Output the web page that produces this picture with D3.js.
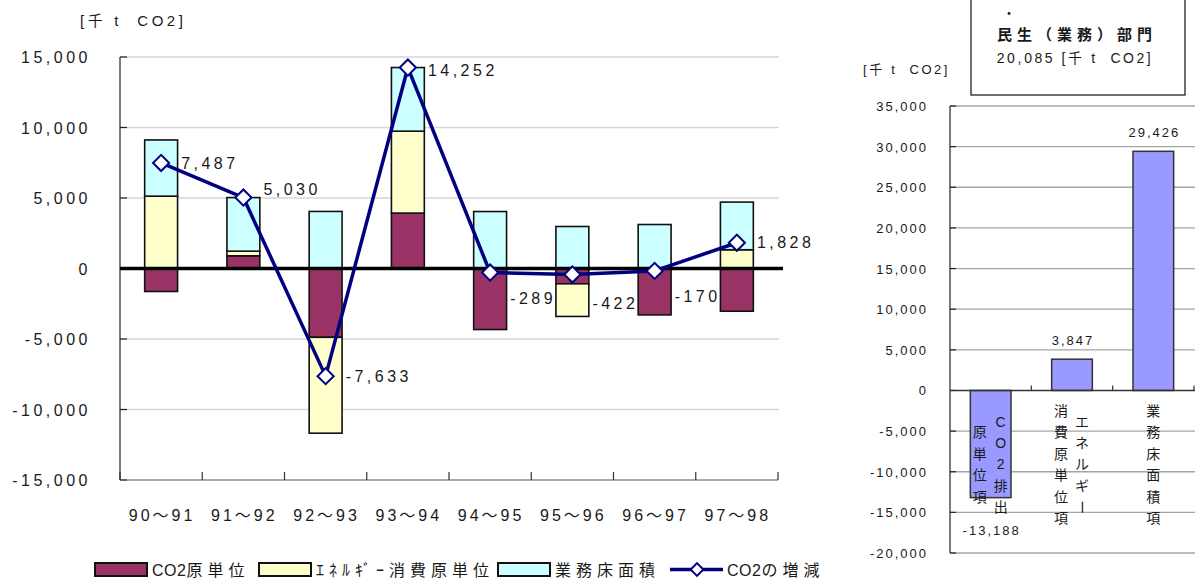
<!DOCTYPE html>
<html><head><meta charset="utf-8">
<script src="https://cdn.jsdelivr.net/npm/d3@7"></script>
<style>
html,body{margin:0;padding:0;background:#fff;}
svg{display:block;font-family:'Liberation Sans','Noto Sans CJK JP',sans-serif;}
</style></head><body>
<svg id="chart" width="1195" height="580"></svg>
<script>
// Year-on-year change in CO2 emissions of the commercial sector, split by factor
const periods = ["90～91","91～92","92～93","93～94","94～95","95～96","96～97","97～98"];
const seriesNames = ["CO2原単位","ｴﾈﾙｷﾞｰ消費原単位","業務床面積"];
const co2Intensity    = [-1630,  900, -4880, 3930, -4329, -1085, -3290, -3030];
const energyIntensity = [ 5130,  330, -6800, 5810,     0, -2316,     0,  1330];
const floorArea       = [ 3987, 3800,  4047, 4512,  4040,  2979,  3120,  3380];
const netChange = [7487, 5030, -7633, 14252, -289, -422, -170, 1828];
const netName = "CO2の増減";
const leftTicks = [15000, 10000, 5000, 0, -5000, -10000, -15000];
const unitLabel = "[千 t  CO2]";

// Factor decomposition 1990→1998 (each entry: vertical text columns, right to left)
const factorCols = [["CO2排出","原単位項"], ["エネルギー","消費原単位項"], ["業務床面積項"]];
const factorValues = [-13188, 3847, 29426];
const rightTicks = [35000, 30000, 25000, 20000, 15000, 10000, 5000, 0, -5000, -10000, -15000, -20000];
const boxDot = "・";
const boxTitle = "民生（業務）部門";
const boxTotal = "20,085 [千 t  CO2]";

// styling
const seriesColors = ["#993366", "#FFFFCC", "#CCFFFF"];
const lineColor = "#000080";
const factorColor = "#9999FF";
const textColor = "#1a1a1a";
// per-point label nudges (px) for the net-change labels
const labelNudge = [0, -9, 0, 2, 25, 29, 25, -1];

// thousands separator with a plain hyphen for negatives
const fmt = d3.formatLocale({decimal: ".", thousands: ",", grouping: [3], currency: ["", ""], minus: "-"}).format(",");
const svg = d3.select("#chart");

// splits a string into Latin and non-Latin runs so each gets its own spacing
function spacedText(sel, str, latinLs, cjkLs) {
  const runs = str.match(/[A-Za-z0-9\[\]\s]+|[^A-Za-z0-9\[\]\s]+/g) || [];
  runs.forEach(r => {
    sel.append("tspan").attr("letter-spacing", /[A-Za-z0-9\[\]\s]/.test(r[0]) ? latinLs : cjkLs).text(r);
  });
}

// ---------------- left chart ----------------
const L = {x0: 120, x1: 778, yTop: 57, yBot: 480};
const xL = d3.scaleBand().domain(periods).range([L.x0, L.x1]).paddingInner(0.6).paddingOuter(0.3);
const yL = d3.scaleLinear().domain([-15000, 15000]).range([L.yBot, L.yTop]);
const stepL = xL.step();
const gL = svg.append("g");

// gridlines
gL.append("g").selectAll("line").data(leftTicks.filter(t => t !== -15000 && t !== 0)).join("line")
  .attr("x1", L.x0).attr("x2", L.x1 + 1).attr("y1", d => yL(d)).attr("y2", d => yL(d))
  .attr("stroke", "#d6d6d6").attr("stroke-width", 1.5);

// stacked bars (positive parts stack upward, negative parts downward)
const seriesData = [co2Intensity, energyIntensity, floorArea];
const stacks = [];
periods.forEach((p, i) => {
  let pos = 0, neg = 0;
  seriesData.forEach((s, k) => {
    const v = s[i];
    if (v === 0) return;
    let a, b;
    if (v > 0) { a = pos; b = pos + v; pos = b; } else { a = neg; b = neg + v; neg = b; }
    stacks.push({p, k, a, b});
  });
});
gL.append("g").selectAll("rect").data(stacks).join("rect")
  .attr("x", d => xL(d.p)).attr("width", xL.bandwidth())
  .attr("y", d => yL(Math.max(d.a, d.b))).attr("height", d => Math.abs(yL(d.a) - yL(d.b)))
  .attr("fill", d => seriesColors[d.k]).attr("stroke", "#111").attr("stroke-width", 1.6);

// y axis
gL.append("line").attr("x1", L.x0).attr("x2", L.x0).attr("y1", L.yTop).attr("y2", L.yBot)
  .attr("stroke", "#222").attr("stroke-width", 1.2);
gL.append("g").selectAll("line").data(leftTicks).join("line")
  .attr("x1", L.x0).attr("x2", L.x0 + 7).attr("y1", d => yL(d)).attr("y2", d => yL(d))
  .attr("stroke", "#222").attr("stroke-width", 1.2);
gL.append("g").selectAll("text").data(leftTicks).join("text")
  .attr("x", 91).attr("y", d => yL(d) + 6).attr("text-anchor", "end")
  .attr("font-size", 16).attr("letter-spacing", 3.5).attr("fill", textColor)
  .text(d => fmt(d));

// bottom axis
gL.append("line").attr("x1", L.x0).attr("x2", L.x1).attr("y1", L.yBot).attr("y2", L.yBot)
  .attr("stroke", "#555").attr("stroke-width", 1.2);
gL.append("g").selectAll("line").data(d3.range(periods.length + 1)).join("line")
  .attr("x1", i => L.x0 + i * stepL).attr("x2", i => L.x0 + i * stepL)
  .attr("y1", L.yBot - 8).attr("y2", L.yBot)
  .attr("stroke", "#333").attr("stroke-width", 1.2);
gL.append("g").selectAll("text").data(periods).join("text")
  .attr("x", d => xL(d) + xL.bandwidth() / 2 + 1).attr("y", 521).attr("text-anchor", "middle")
  .attr("font-size", 16).attr("letter-spacing", 3).attr("fill", textColor)
  .text(d => d);

// zero line
gL.append("line").attr("x1", L.x0).attr("x2", L.x1 + 5).attr("y1", yL(0)).attr("y2", yL(0))
  .attr("stroke", "#000").attr("stroke-width", 3.5);

// net change line + markers
const cx = (d, i) => xL(periods[i]) + xL.bandwidth() / 2;
gL.append("path").datum(netChange)
  .attr("d", d3.line().x(cx).y(d => yL(d)))
  .attr("fill", "none").attr("stroke", lineColor).attr("stroke-width", 3.5).attr("stroke-linejoin", "round");
const diamond = d3.symbol(d3.symbolSquare, 130);
gL.append("g").selectAll("path").data(netChange).join("path")
  .attr("d", diamond)
  .attr("transform", (d, i) => `translate(${cx(d, i)},${yL(d)}) rotate(45)`)
  .attr("fill", "#fff").attr("stroke", lineColor).attr("stroke-width", 2);
gL.append("g").selectAll("text").data(netChange).join("text")
  .attr("x", (d, i) => cx(d, i) + 20).attr("y", (d, i) => yL(d) + labelNudge[i] + 6)
  .attr("font-size", 16).attr("letter-spacing", 3.5).attr("fill", textColor)
  .text(d => fmt(d));

// unit label
spacedText(svg.append("text").attr("x", 80).attr("y", 26).attr("font-size", 15)
  .attr("fill", textColor).attr("xml:space", "preserve").style("white-space", "pre"), unitLabel, 3.5, 4);

// legend
const legend = svg.append("g");
const legendX = [95, 259, 498];
seriesNames.forEach((name, k) => {
  legend.append("rect").attr("x", legendX[k]).attr("y", 563).attr("width", 52).attr("height", 13)
    .attr("fill", seriesColors[k]).attr("stroke", "#111").attr("stroke-width", 2);
  spacedText(legend.append("text").attr("x", legendX[k] + 57).attr("y", 576)
    .attr("font-size", 16).attr("fill", textColor), name, 0.5, 5);
});
legend.append("line").attr("x1", 670).attr("x2", 723).attr("y1", 569.5).attr("y2", 569.5)
  .attr("stroke", lineColor).attr("stroke-width", 3.5);
legend.append("path").attr("d", d3.symbol(d3.symbolSquare, 80))
  .attr("transform", "translate(697,569.5) rotate(45)")
  .attr("fill", "#fff").attr("stroke", lineColor).attr("stroke-width", 2);
spacedText(legend.append("text").attr("x", 727).attr("y", 576).attr("font-size", 16)
  .attr("fill", textColor), netName, 0.5, 5);

// ---------------- right chart ----------------
const R = {x0: 950, x1: 1194, yTop: 106, yBot: 553};
const factorIdx = factorCols.map((c, i) => i);
const xR = d3.scaleBand().domain(factorIdx).range([R.x0, R.x1]).paddingInner(0.5).paddingOuter(0.25);
const yR = d3.scaleLinear().domain([-20000, 35000]).range([R.yBot, R.yTop]);
const gR = svg.append("g");

gR.append("g").selectAll("line").data(rightTicks.filter(t => t !== 0)).join("line")
  .attr("x1", R.x0).attr("x2", 1195).attr("y1", d => yR(d)).attr("y2", d => yR(d))
  .attr("stroke", "#a6a6a6").attr("stroke-width", 1.3);

gR.append("g").selectAll("rect").data(factorValues).join("rect")
  .attr("x", (d, i) => xR(i)).attr("width", xR.bandwidth())
  .attr("y", d => yR(Math.max(0, d))).attr("height", d => Math.abs(yR(d) - yR(0)))
  .attr("fill", factorColor).attr("stroke", "#333").attr("stroke-width", 1.5);

gR.append("line").attr("x1", R.x0).attr("x2", R.x0).attr("y1", R.yTop).attr("y2", R.yBot)
  .attr("stroke", "#222").attr("stroke-width", 1.2);
gR.append("g").selectAll("line").data(rightTicks).join("line")
  .attr("x1", R.x0).attr("x2", R.x0 + 6).attr("y1", d => yR(d)).attr("y2", d => yR(d))
  .attr("stroke", "#222").attr("stroke-width", 1.2);
gR.append("line").attr("x1", R.x0).attr("x2", 1195).attr("y1", yR(0)).attr("y2", yR(0))
  .attr("stroke", "#333").attr("stroke-width", 1.6);
gR.append("g").selectAll("line").data(d3.range(1, factorCols.length + 1)).join("line")
  .attr("x1", i => R.x0 + i * xR.step()).attr("x2", i => R.x0 + i * xR.step())
  .attr("y1", yR(0) - 5).attr("y2", yR(0))
  .attr("stroke", "#333").attr("stroke-width", 1.2);
gR.append("g").selectAll("text").data(rightTicks).join("text")
  .attr("x", 928).attr("y", d => yR(d) + 5).attr("text-anchor", "end")
  .attr("font-size", 13).attr("letter-spacing", 2).attr("fill", textColor)
  .text(d => fmt(d));

// value labels
gR.append("g").selectAll("text").data(factorValues).join("text")
  .attr("x", (d, i) => xR(i) + xR.bandwidth() / 2 + 1)
  .attr("y", d => d >= 0 ? yR(d) - 14 : yR(d) + 37)
  .attr("text-anchor", "middle").attr("font-size", 13).attr("letter-spacing", 2).attr("fill", textColor)
  .text(d => fmt(d));

// vertical category labels (columns run right to left)
const charStep = 21.4;
const colMid = yR(0) + 74;
factorCols.forEach((cols, i) => {
  const c = xR(i) + xR.bandwidth() / 2;
  const offs = cols.length === 2 ? [10, -11] : [0];
  cols.forEach((col, j) => {
    const chars = Array.from(col);
    const y0 = colMid - (chars.length - 1) / 2 * charStep;
    chars.forEach((ch, m) => {
      gR.append("text")
        .attr("x", 0).attr("y", 0).attr("text-anchor", "middle").attr("dominant-baseline", "central")
        .attr("font-size", 14).attr("fill", textColor)
        .attr("transform", `translate(${c + offs[j]},${y0 + m * charStep})` + (ch === "ー" ? " rotate(90)" : ""))
        .text(ch);
    });
  });
});

// unit label
spacedText(svg.append("text").attr("x", 863).attr("y", 74).attr("font-size", 13)
  .attr("fill", textColor).attr("xml:space", "preserve").style("white-space", "pre"), unitLabel, 2.5, 3);

// title box
const box = svg.append("g");
box.append("rect").attr("x", 971).attr("y", -1).attr("width", 214).attr("height", 96)
  .attr("fill", "#fff").attr("stroke", "#111").attr("stroke-width", 1.2);
box.append("text").attr("x", 1009).attr("y", 13).attr("text-anchor", "middle")
  .attr("dominant-baseline", "central").attr("font-size", 14).attr("fill", textColor).text(boxDot);
box.append("text").attr("x", 1077).attr("y", 40).attr("text-anchor", "middle")
  .attr("font-size", 15).attr("font-weight", "bold").attr("letter-spacing", 5).attr("fill", textColor)
  .text(boxTitle);
spacedText(box.append("text").attr("x", 1075).attr("y", 63).attr("text-anchor", "middle")
  .attr("font-size", 14).attr("fill", textColor).attr("xml:space", "preserve").style("white-space", "pre"),
  boxTotal, 2.5, 3);
</script>
</body></html>
